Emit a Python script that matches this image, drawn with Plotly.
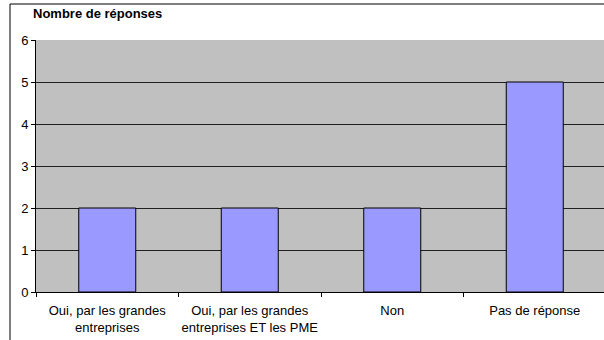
import plotly.graph_objects as go

categories = [
    "Oui, par les grandes<br>entreprises",
    "Oui, par les grandes<br>entreprises ET les PME",
    "Non",
    "Pas de réponse",
]
responses = [2, 2, 2, 5]
y_ticks = [0, 1, 2, 3, 4, 5, 6]

W, H = 604, 340
ML, MR, MT, MB = 36, 0, 40, 48
plot_w = W - ML - MR
plot_h = H - MT - MB

fig = go.Figure(
    go.Bar(
        x=categories,
        y=responses,
        width=0.4,
        marker=dict(color="#9999FF", line=dict(color="black", width=1)),
        hoverinfo="x+y",
    )
)

font = dict(family="Liberation Sans, Arial, sans-serif", size=13, color="black")

fig.update_layout(
    width=W,
    height=H,
    margin=dict(l=ML, r=MR, t=MT, b=MB, pad=0, autoexpand=False),
    paper_bgcolor="white",
    plot_bgcolor="#C0C0C0",
    font=font,
    showlegend=False,
    bargap=0.6,
    xaxis=dict(
        type="category",
        range=[-0.5, 3.486],
        showline=True,
        linecolor="black",
        linewidth=1,
        ticks="outside",
        tickson="boundaries",
        ticklen=4,
        tickcolor="black",
        showgrid=False,
        tickfont=font,
        tickangle=0,
        automargin=False,
        ticklabelstandoff=6,
        fixedrange=True,
    ),
    yaxis=dict(
        range=[0, 6],
        tickvals=y_ticks,
        showline=True,
        linecolor="black",
        linewidth=1,
        ticks="outside",
        ticklen=4,
        tickcolor="black",
        showgrid=True,
        gridcolor="#202020",
        gridwidth=1,
        zeroline=False,
        tickfont=font,
        automargin=False,
        fixedrange=True,
    ),
    annotations=[
        dict(
            text="<b>Nombre de réponses</b>",
            xref="paper",
            yref="paper",
            x=-5 / plot_w,
            y=1 + (MT - 14) / plot_h,
            xanchor="left",
            yanchor="middle",
            showarrow=False,
            font=dict(family="Liberation Sans, Arial, sans-serif", size=13, color="black"),
        )
    ],
    shapes=[
        # chart frame: top and left edges
        dict(
            type="line",
            xref="paper",
            yref="paper",
            x0=(10 - ML) / plot_w,
            x1=1,
            y0=1 + (MT - 4) / plot_h,
            y1=1 + (MT - 4) / plot_h,
            line=dict(color="black", width=1),
        ),
        dict(
            type="line",
            xref="paper",
            yref="paper",
            x0=(10 - ML) / plot_w,
            x1=(10 - ML) / plot_w,
            y0=1 + (MT - 4) / plot_h,
            y1=-MB / plot_h,
            line=dict(color="black", width=1),
        ),
    ],
)

fig.write_html("out.html", config={"displayModeBar": False})
